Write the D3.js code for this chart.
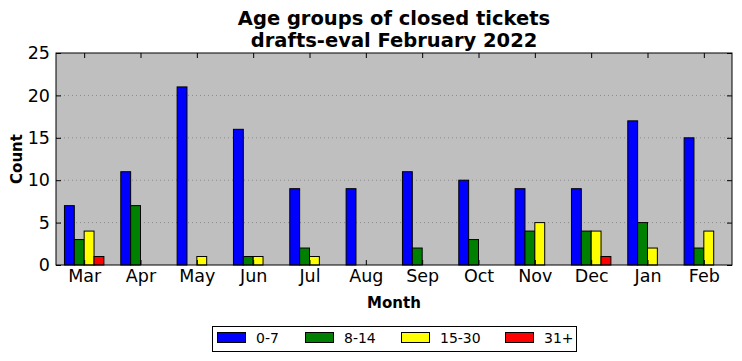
<!DOCTYPE html>
<html>
<head>
<meta charset="utf-8">
<script src="https://cdn.jsdelivr.net/npm/d3@7"></script>
<style>
  body { margin: 0; background: #fff; }
  svg { font-family: "DejaVu Sans", sans-serif; }
</style>
</head>
<body>
<svg id="chart" width="742" height="361"></svg>
<script>
const months = ['Mar', 'Apr', 'May', 'Jun', 'Jul', 'Aug', 'Sep', 'Oct', 'Nov', 'Dec', 'Jan', 'Feb'];
const groups = ['0-7', '8-14', '15-30', '31+'];
const age0to7 = [7, 11, 21, 16, 9, 9, 11, 10, 9, 9, 17, 15];
const age8to14 = [3, 7, 0, 1, 2, 0, 2, 3, 4, 4, 5, 2];
const age15to30 = [4, 0, 1, 1, 1, 0, 0, 0, 5, 4, 2, 4];
const age31plus = [1, 0, 0, 0, 0, 0, 0, 0, 0, 1, 0, 0];
const yTicks = [0, 5, 10, 15, 20, 25];
const colors = ['#0000ff', '#008000', '#ffff00', '#ff0000'];

const series = [age0to7, age8to14, age15to30, age31plus];

const margin = ({top: 53, right: 10, bottom: 96, left: 56});
const width = 742;
const height = 361;
const barW = 0.175;

const svg = d3.select('#chart');

const xScale = d3.scaleLinear()
    .domain([-0.5, months.length - 0.5])
    .range([margin.left, width - margin.right]);

const yScale = d3.scaleLinear()
    .domain([0, 25])
    .range([height - margin.bottom, margin.top]);

// plot background
svg.append('rect')
    .attr('x', margin.left)
    .attr('y', margin.top)
    .attr('width', width - margin.right - margin.left)
    .attr('height', height - margin.bottom - margin.top)
    .attr('fill', '#bfbfbf');

// grid
svg.append('g')
    .selectAll('line')
    .data(yTicks.slice(1, -1))
    .join('line')
    .attr('x1', margin.left)
    .attr('x2', width - margin.right)
    .attr('y1', d => yScale(d))
    .attr('y2', d => yScale(d))
    .attr('stroke', '#8a8a8a')
    .attr('stroke-width', 1)
    .attr('stroke-dasharray', '1,3');

// bars
series.forEach((vals, s) => {
    svg.append('g')
        .attr('fill', colors[s])
        .selectAll('rect')
        .data(vals)
        .join('rect')
        .attr('x', (d, i) => xScale(i + (s - 2) * barW))
        .attr('y', d => yScale(d))
        .attr('width', xScale(barW) - xScale(0))
        .attr('height', d => yScale(0) - yScale(d))
        .attr('stroke', '#000')
        .attr('stroke-width', 1);
});

// axes (classic style: inward ticks on all sides)
const tickLen = 5;
const xAxisB = g => g.attr('transform', `translate(0, ${height - margin.bottom})`)
    .call(d3.axisBottom(xScale).tickValues(d3.range(months.length))
        .tickFormat(i => months[i]).tickSizeInner(-tickLen).tickSizeOuter(0).tickPadding(5));
const xAxisT = g => g.attr('transform', `translate(0, ${margin.top})`)
    .call(d3.axisTop(xScale).tickValues(d3.range(months.length))
        .tickFormat('').tickSizeInner(-tickLen).tickSizeOuter(0));
const yAxisL = g => g.attr('transform', `translate(${margin.left}, 0)`)
    .call(d3.axisLeft(yScale).tickValues(yTicks).tickSizeInner(-tickLen).tickSizeOuter(0).tickPadding(6));
const yAxisR = g => g.attr('transform', `translate(${width - margin.right}, 0)`)
    .call(d3.axisRight(yScale).tickValues(yTicks).tickFormat('').tickSizeInner(-tickLen).tickSizeOuter(0));

[xAxisB, xAxisT, yAxisL, yAxisR].forEach(ax => {
    svg.append('g').call(ax)
        .call(g => g.select('.domain').remove())
        .call(g => g.selectAll('text').attr('font-size', 17.5).attr('fill', '#000')
            .attr('font-family', '"DejaVu Sans", sans-serif'))
        .call(g => g.selectAll('line').attr('stroke', '#000'));
});

// frame
svg.append('rect')
    .attr('x', margin.left)
    .attr('y', margin.top)
    .attr('width', width - margin.right - margin.left)
    .attr('height', height - margin.bottom - margin.top)
    .attr('fill', 'none')
    .attr('stroke', '#000')
    .attr('stroke-width', 1);

// titles
const title = svg.append('text')
    .attr('text-anchor', 'middle')
    .attr('font-weight', 'bold')
    .attr('font-size', 19.5);
title.append('tspan').attr('x', 394).attr('y', 25).text('Age groups of closed tickets');
title.append('tspan').attr('x', 394).attr('y', 47).text('drafts-eval February 2022');

svg.append('text')
    .attr('x', 394)
    .attr('y', 308)
    .attr('text-anchor', 'middle')
    .attr('font-weight', 'bold')
    .attr('font-size', 15)
    .text('Month');

svg.append('text')
    .attr('transform', `translate(22, ${(margin.top + height - margin.bottom) / 2}) rotate(-90)`)
    .attr('text-anchor', 'middle')
    .attr('font-weight', 'bold')
    .attr('font-size', 15)
    .text('Count');

// legend
const legend = svg.append('g');
legend.append('rect')
    .attr('x', 212.5).attr('y', 326.5)
    .attr('width', 364).attr('height', 25)
    .attr('fill', '#fff').attr('stroke', '#000');
const legendX = [217, 305, 401, 505];
const item = legend.selectAll('g.item')
    .data(groups)
    .join('g')
    .attr('class', 'item')
    .attr('transform', (d, i) => `translate(${legendX[i]}, 332)`);
item.append('rect')
    .attr('x', 0.5).attr('y', 0.5)
    .attr('width', 28).attr('height', 10)
    .attr('fill', (d, i) => colors[i])
    .attr('stroke', '#000');
item.append('text')
    .attr('x', 39).attr('y', 11)
    .attr('font-size', 14)
    .text(d => d);
</script>
</body>
</html>
